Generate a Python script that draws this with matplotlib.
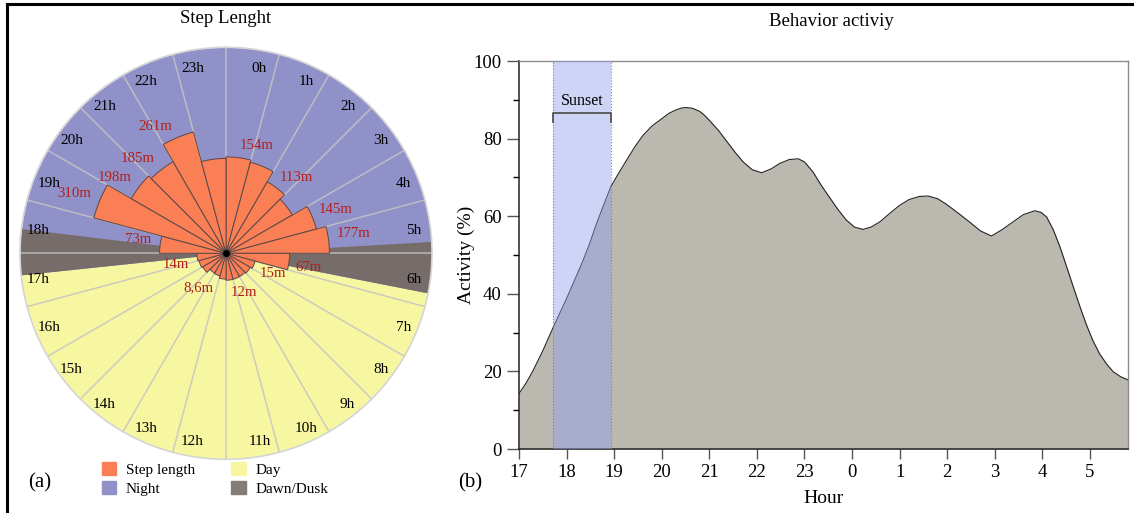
import numpy as np
import matplotlib.pyplot as plt
from matplotlib.patches import Patch
from matplotlib.lines import Line2D
from matplotlib.transforms import offset_copy

plt.rcParams['font.family'] = ['Liberation Serif', 'DejaVu Serif']

W, H = 1134, 513

# ---- panel (a): step length per hour of the day (m), sqrt radial scale
hours = np.arange(24)
step_len = [154, 147, 113, 97, 145, 177, 67, 15, 13, 12, 12, 12,
            11, 9, 8.6, 12, 13, 14, 73, 310, 198, 185, 261, 149]
hour_labels = ['%dh' % h for h in hours]

# values written next to some bars
value_text = ['261m', '154m', '185m', '113m', '198m', '310m', '145m', '177m',
              '73m', '14m', '67m', '15m', '8,6m', '12m']

# dawn / dusk limits (hour of day)
dawn = (5.78, 6.74)
dusk = (17.6, 18.46)

# ---- panel (b): activity along the night (hours after midnight as 24+)
act_hour = [17.0, 17.15, 17.3, 17.5, 17.71, 17.85, 18.0, 18.16, 18.32, 18.48,
            18.63, 18.78, 18.93, 19.1, 19.26, 19.43, 19.61, 19.8, 20.01, 20.15,
            20.3, 20.42, 20.52, 20.65, 20.8, 20.9, 21.01, 21.2, 21.36, 21.54,
            21.71, 21.9, 22.1, 22.3, 22.48, 22.68, 22.87, 23.0, 23.18, 23.35,
            23.53, 23.7, 23.88, 24.05, 24.23, 24.4, 24.58, 24.8, 25.0, 25.2,
            25.42, 25.6, 25.8, 25.98, 26.22, 26.47, 26.7, 26.93, 27.15, 27.38,
            27.6, 27.84, 27.97, 28.09, 28.23, 28.37, 28.51, 28.65, 28.79, 28.93,
            29.06, 29.2, 29.35, 29.49, 29.65, 29.8]
act_val = [14.3, 17.0, 20.3, 25.3, 31.1, 34.8, 38.8, 43.3, 47.8, 52.8,
           58.1, 62.9, 67.6, 71.2, 74.4, 77.8, 80.9, 83.3, 85.2, 86.5,
           87.4, 87.9, 88.0, 87.8, 87.0, 86.0, 84.6, 82.0, 79.4, 76.5,
           74.0, 72.0, 71.2, 72.2, 73.6, 74.6, 74.8, 74.0, 71.4, 68.0,
           64.8, 61.8, 59.0, 57.2, 56.6, 57.2, 58.5, 60.8, 62.8, 64.3,
           65.1, 65.2, 64.5, 63.1, 60.9, 58.5, 56.2, 54.9, 56.5, 58.5,
           60.4, 61.4, 61.0, 59.8, 56.5, 52.1, 47.0, 41.8, 36.7, 31.9,
           28.0, 24.6, 21.9, 19.9, 18.6, 17.8]
sunset = (17.72, 18.93)
xticks = list(range(17, 30))

c_step = '#fa7f55'
c_night = '#9191c9'
c_day = '#f7f7a2'
c_dusk = '#766c69'
c_red = '#b0201e'

fig = plt.figure(figsize=(W / 100, H / 100), dpi=100)

# polar panel
R_px = 206.0
cx, cy = 226.0, 253.3
rmax = 26.5
px = R_px / rmax
ax = fig.add_axes([(cx - R_px) / W, (H - cy - R_px) / H, 2 * R_px / W, 2 * R_px / H],
                  projection='polar')
ax.set_theta_zero_location('N')
ax.set_theta_direction(-1)
ax.set_ylim(0, rmax)
ax.set_xticks([])
ax.set_yticks([])
ax.grid(False)
ax.set_facecolor('none')
ax.spines['polar'].set_color('#d5d5d5')
ax.spines['polar'].set_linewidth(1.2)


def h2t(h):
    return np.asarray(h) / 24.0 * 2 * np.pi


t = np.linspace(0, 2 * np.pi, 400)
ax.fill_between(t, 0, rmax, color=c_night, lw=0, zorder=0)
t = np.linspace(h2t(dawn[1]), h2t(dusk[0]), 200)
ax.fill_between(t, 0, rmax, color=c_day, lw=0, zorder=0)
for a, b in (dawn, dusk):
    t = np.linspace(h2t(a), h2t(b), 50)
    ax.fill_between(t, 0, rmax, color=c_dusk, lw=0, zorder=0)

for h in hours:
    ax.plot([h2t(h), h2t(h)], [0, rmax], color='#c4c4c4', lw=1.1, alpha=0.85, zorder=1)

ax.bar(h2t(hours + 0.5), np.sqrt(step_len), width=2 * np.pi / 24, color=c_step,
       edgecolor='#5a4848', lw=0.7, zorder=2)
ax.plot(0, 0, 'o', color='black', ms=4, zorder=3)

for h in hours:
    th = h2t(h + 0.5)
    dx = 9 * np.sign(np.sin(th)) * abs(np.cos(th))
    tr = offset_copy(ax.transData, fig=fig, x=dx, y=-2, units='dots')
    ax.text(th, 188 / px, hour_labels[h], ha='center', va='center',
            fontsize=11, zorder=4, transform=tr)

value_pos = [(331, 145), (16, 112), (317, 129.5), (43, 104), (304.4, 134.5),
             (291.5, 163), (68.2, 118.5), (81.1, 129.6), (279, 89), (257.6, 51),
             (99.6, 84), (113, 51), (219.5, 44), (155, 43)]
for txt, (ang, r) in zip(value_text, value_pos):
    ax.text(np.deg2rad(ang), r / px, txt, ha='center', va='center',
            fontsize=10.7, color=c_red, zorder=4)

fig.text(cx / W, 1 - 19 / H, 'Step Lenght', ha='center', va='center', fontsize=13.5)
fig.text(40 / W, 1 - 483 / H, '(a)', ha='center', va='center', fontsize=15)

handles = [Patch(color=c_step), Patch(color=c_night), Patch(color=c_day), Patch(color='#857b79')]
fig.legend(handles, ['Step length', 'Night', 'Day', 'Dawn/Dusk'], ncol=2,
           loc='center', bbox_to_anchor=(215 / W, 1 - 479 / H), frameon=False,
           fontsize=11, handlelength=0.95, handleheight=0.9, handletextpad=0.6,
           columnspacing=2.4, labelspacing=0.3, borderpad=0)

# activity panel
ax2 = fig.add_axes([519 / W, (H - 449) / H, 609 / W, 388 / H])
ax2.fill_between(act_hour, 0, act_val, color='#bbb8b0', lw=0, zorder=1)
ax2.plot(act_hour, act_val, color='#222222', lw=0.8, zorder=2)
ax2.axvspan(sunset[0], sunset[1], color='#91a1ed', alpha=0.45, lw=0, zorder=3)
for s in sunset:
    ax2.axvline(s, color='#7880a8', lw=0.8, ls=':', zorder=3)
ax2.plot([sunset[0], sunset[0], sunset[1], sunset[1]], [84.2, 86.5, 86.5, 84.2],
         color='#555555', lw=1.3, zorder=4)
ax2.text(sum(sunset) / 2, 89.7, 'Sunset', ha='center', va='center', fontsize=11.5)

ax2.set_xlim(17, 29.8)
ax2.set_ylim(0, 100)
ax2.set_xticks(xticks)
ax2.set_xticklabels([str(h % 24) for h in xticks])
ax2.set_yticks(range(0, 101, 20))
ax2.set_yticks(range(10, 100, 20), minor=True)
ax2.tick_params(axis='both', labelsize=13.5, direction='out', color='#555555')
ax2.tick_params(axis='y', which='major', length=9, width=1)
ax2.tick_params(axis='y', which='minor', length=4.5, width=1)
ax2.tick_params(axis='x', length=7, width=1, pad=4)
for side in ('top', 'right'):
    ax2.spines[side].set_color('#8a8a8a')
    ax2.spines[side].set_linewidth(1)
for side in ('left', 'bottom'):
    ax2.spines[side].set_color('#222222')
    ax2.spines[side].set_linewidth(1.1)
ax2.set_ylabel('Activity (%)', fontsize=14, labelpad=-1)
ax2.set_xlabel('Hour', fontsize=14, labelpad=6.5)

fig.text(831 / W, 1 - 22 / H, 'Behavior activiy', ha='center', va='center', fontsize=13.5)
fig.text(470 / W, 1 - 483 / H, '(b)', ha='center', va='center', fontsize=15)

# figure frame (top and left)
fig.add_artist(Line2D([7 / W, 7 / W], [0, 1 - 4 / H], color='black', lw=2.2,
                      transform=fig.transFigure))
fig.add_artist(Line2D([7 / W, 1], [1 - 4 / H, 1 - 4 / H], color='black', lw=2.2,
                      transform=fig.transFigure))

fig.savefig('out.png', dpi=100)
